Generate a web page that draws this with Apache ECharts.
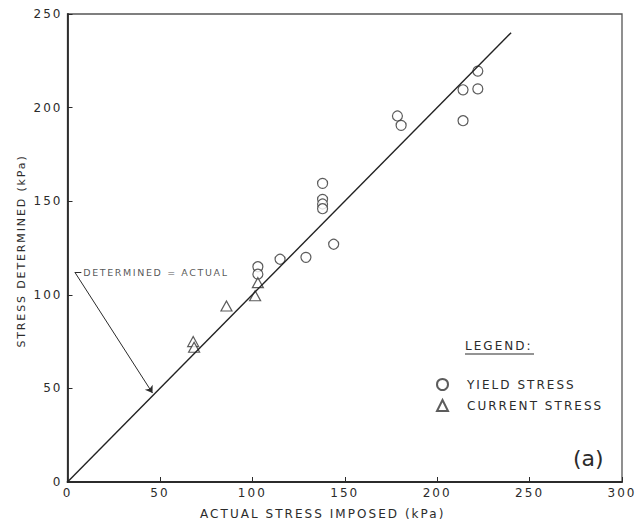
<!DOCTYPE html>
<html>
<head>
<meta charset="utf-8">
<script src="https://cdn.jsdelivr.net/npm/echarts@6/dist/echarts.min.js"></script>
<style>
  html, body { margin: 0; padding: 0; background: #fff; }
  #chart { width: 644px; height: 525px; }
  /* hand-lettered look: widely spaced capitals */
  #chart text { letter-spacing: 0.17em; }
  #chart text.tight { letter-spacing: 0; }
</style>
</head>
<body>
<div id="chart"></div>
<script>
// Yield stress points [actual imposed, determined] in kPa
const yieldStress = [
  [103, 115], [103, 111], [115, 119], [129, 120],
  [138, 159.5], [138, 151], [138, 148.5], [138, 146],
  [144, 127], [178.5, 195.5], [180.5, 190.5],
  [214, 209.5], [222, 219.5], [222, 210], [214, 193]
];
// Current stress points [actual imposed, determined] in kPa
const currentStress = [
  [68, 75], [68.5, 72], [86, 94], [101.5, 99.5], [103, 106.5]
];
// Determined = actual reference line
const equalityLine = [[0, 0], [240, 240]];

// Axis ranges and tick spacing
const xMin = 0, xMax = 300;
const yMin = 0, yMax = 250;
const tickStep = 50;

// Leader arrow pointing at the reference line, and its caption anchor
const arrowTail = [4, 112];
const arrowHookEnd = [7.5, 112];
const arrowHead = [46, 47.5];
const captionAnchor = [8.5, 112];
const captionText = 'DETERMINED = ACTUAL';
const panelTag = '(a)';

const ink = '#2b2b2b';
const font = 'DejaVu Sans';

const chart = echarts.init(document.getElementById('chart'), null, { renderer: 'svg' });

chart.setOption({
  backgroundColor: '#fff',
  animation: false,
  grid: {
    left: 67.5, right: 22, top: 14, bottom: 42.3,
    show: true, borderColor: '#555', borderWidth: 1.3, backgroundColor: 'transparent'
  },
  xAxis: {
    type: 'value', min: xMin, max: xMax, interval: tickStep,
    name: 'ACTUAL STRESS IMPOSED (kPa)', nameLocation: 'middle', nameGap: 26,
    nameTextStyle: { fontFamily: font, fontSize: 12, color: ink, padding: [0, 44, 0, 0] },
    axisLine: { show: true, lineStyle: { color: ink, width: 1.8 } },
    axisTick: { show: true, inside: true, length: 5, lineStyle: { color: ink, width: 1 } },
    axisLabel: { fontFamily: font, fontSize: 12, color: ink, margin: 5 },
    splitLine: { show: false }
  },
  yAxis: {
    type: 'value', min: yMin, max: yMax, interval: tickStep,
    name: 'STRESS DETERMINED (kPa)', nameLocation: 'middle', nameGap: 41,
    nameTextStyle: { fontFamily: font, fontSize: 11, color: ink, padding: [0, 6, 0, 0] },
    axisLine: { show: true, lineStyle: { color: ink, width: 1.8 } },
    axisTick: { show: true, inside: true, length: 5, lineStyle: { color: ink, width: 1 } },
    axisLabel: { fontFamily: font, fontSize: 12, color: ink, margin: 5 },
    splitLine: { show: false }
  },
  legend: {
    data: ['YIELD STRESS', 'CURRENT STRESS'],
    orient: 'vertical', left: 431, top: 373,
    itemWidth: 11, itemHeight: 11, itemGap: 8,
    textStyle: { fontFamily: font, fontSize: 12, color: ink, padding: [0, 0, 0, 14] },
    selectedMode: false
  },
  graphic: [
    { type: 'text', left: 465, top: 340,
      style: { text: 'LEGEND:', font: '12px "DejaVu Sans"', fill: ink } },
    { type: 'line', shape: { x1: 465, y1: 354, x2: 534, y2: 354 },
      style: { stroke: ink, lineWidth: 1.2 } },
    { type: 'text', left: 573, top: 447,
      style: { text: panelTag, font: '22px "DejaVu Sans"', fill: ink } }
  ],
  series: [
    {
      name: 'reference', type: 'line', data: equalityLine,
      symbol: 'none', silent: true,
      lineStyle: { color: '#222', width: 1.4 },
      markLine: {
        silent: true, animation: false,
        lineStyle: { color: ink, width: 1, type: 'solid' },
        label: { show: false },
        symbolSize: 7,
        data: [
          [{ coord: arrowTail, symbol: 'none' }, { coord: arrowHead, symbol: 'arrow' }],
          [{ coord: arrowTail, symbol: 'none' }, { coord: arrowHookEnd, symbol: 'none' }]
        ]
      }
    },
    {
      name: 'caption', type: 'scatter', data: [captionAnchor],
      symbolSize: 0, silent: true,
      label: {
        show: true, position: 'right', distance: 0,
        formatter: captionText,
        fontFamily: font, fontSize: 9.5, color: ink
      }
    },
    {
      name: 'YIELD STRESS', type: 'scatter', data: yieldStress,
      symbol: 'circle', symbolSize: 10,
      itemStyle: { color: '#fff', borderColor: '#333', borderWidth: 1.2 }
    },
    {
      name: 'CURRENT STRESS', type: 'scatter', data: currentStress,
      symbol: 'triangle', symbolSize: [11, 10],
      itemStyle: { color: '#fff', borderColor: '#333', borderWidth: 1.2 }
    }
  ]
});

// The panel tag is set in ordinary spacing
document.querySelectorAll('#chart text').forEach(function (t) {
  if (t.textContent === panelTag) t.classList.add('tight');
});
</script>
</body>
</html>
